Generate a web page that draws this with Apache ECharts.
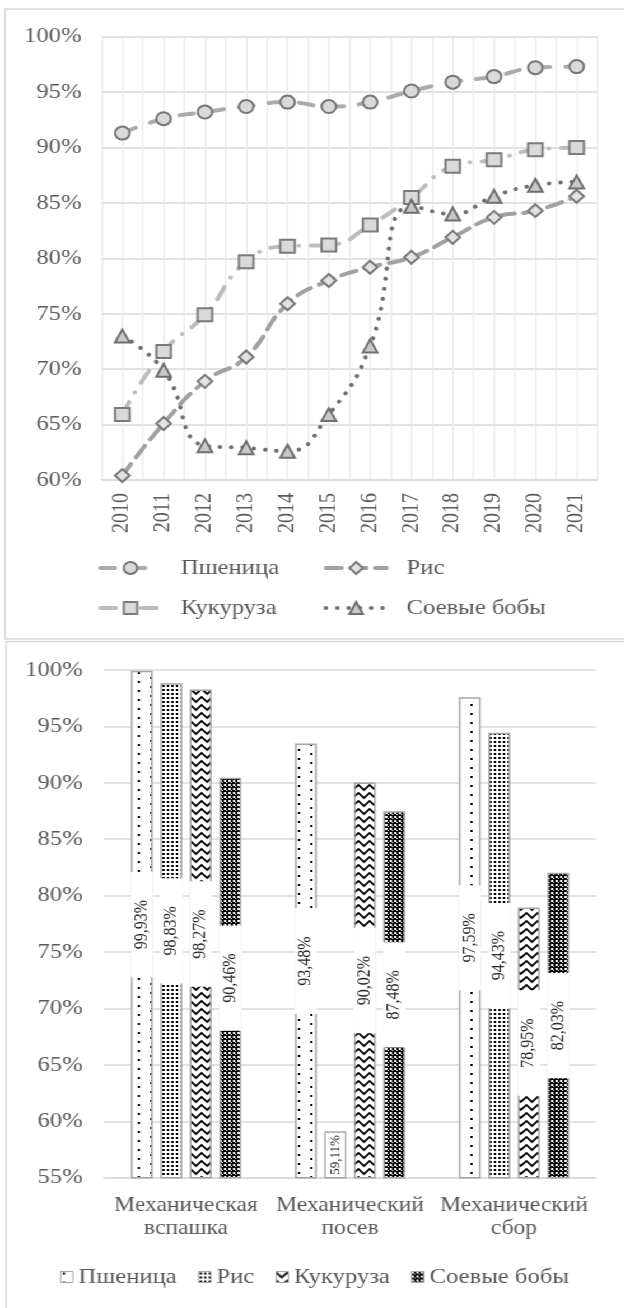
<!DOCTYPE html>
<html>
<head>
<meta charset="utf-8">
<script src="https://cdn.jsdelivr.net/npm/echarts@6/dist/echarts.min.js"></script>
<style>
  html, body { margin: 0; padding: 0; background: #fff; overflow: hidden; }
  /* the figure is drawn slightly narrow and widened as a whole */
  #wrap { position: absolute; left: 0; top: 0; width: 557px; height: 1308px;
          transform: scaleX(1.12); transform-origin: 0 0; }
  #lines { position: absolute; left: 0; top: 0; width: 557px; height: 640px; }
  #bars  { position: absolute; left: 0; top: 640px; width: 557px; height: 668px; }
</style>
</head>
<body>
<div id="wrap">
  <div id="lines"></div>
  <div id="bars"></div>
</div>
<script>
// ---- data: level of mechanisation by crop, %
const years = ['2010', '2011', '2012', '2013', '2014', '2015', '2016', '2017', '2018', '2019', '2020', '2021'];
const wheat = [91.3, 92.6, 93.2, 93.7, 94.1, 93.7, 94.1, 95.1, 95.9, 96.4, 97.2, 97.3];
const rice  = [60.4, 65.1, 68.9, 71.1, 75.9, 78.0, 79.2, 80.1, 81.9, 83.7, 84.3, 85.6];
const corn  = [65.9, 71.6, 74.9, 79.7, 81.1, 81.2, 83.0, 85.5, 88.3, 88.9, 89.8, 90.0];
const soy   = [73.0, 69.9, 63.1, 62.9, 62.6, 65.9, 72.1, 84.7, 84.0, 85.6, 86.6, 86.9];

const crops = ['Пшеница', 'Рис', 'Кукуруза', 'Соевые бобы'];
const operations = ['Механическая\nвспашка', 'Механический\nпосев', 'Механический\nсбор'];
const wheatOps = [99.93, 93.48, 97.59];
const riceOps  = [98.83, 59.11, 94.43];
const cornOps  = [98.27, 90.02, 78.95];
const soyOps   = [90.46, 87.48, 82.03];

const lineAxis = { min: 60, max: 100, step: 5 };
const barAxis  = { min: 55, max: 100, step: 5 };

// ---- styling
const FONT = "'Liberation Serif', 'Times New Roman', serif";
const TEXT = '#595959';
const GRID = '#d9d9d9';

// ---- line chart (by year)
const lineChart = echarts.init(document.getElementById('lines'));

function lineSeries(name, data, symbol, lineColor, dash, fill, edge) {
  return {
    name, type: 'line', data, symbol, symbolSize: 13, smooth: 0.5,
    xAxisIndex: 0, yAxisIndex: 0,
    lineStyle: { color: lineColor, width: 4, type: dash, cap: 'round' },
    itemStyle: { color: fill, borderColor: edge, borderWidth: 2 },
    emphasis: { disabled: true }
  };
}

function lineLegend(name, left, top) {
  return {
    data: [name], left, top, padding: 0, itemWidth: 54, itemHeight: 15,
    selectedMode: false,
    lineStyle: { width: 4 },
    textStyle: { fontFamily: FONT, fontSize: 22, color: TEXT, padding: [0, 0, 0, 13] }
  };
}

lineChart.setOption({
  animation: false,
  backgroundColor: '#fff',
  graphic: [{
    type: 'rect', silent: true,
    shape: { x: 4.5, y: 9, width: 620, height: 630 },
    style: { fill: 'none', stroke: GRID, lineWidth: 1.5 }
  }],
  grid: { left: 90.8, top: 36.7, width: 442.5, height: 443.3 },
  xAxis: [{
    type: 'category', data: years, boundaryGap: true,
    axisLine: { lineStyle: { color: GRID, width: 1.5 } },
    axisTick: { show: false },
    axisLabel: { interval: 0, rotate: 90, margin: 13, fontFamily: FONT, fontSize: 20, color: TEXT },
    splitLine: { show: false }
  }, {
    // half-year vertical rules
    type: 'value', min: 0, max: years.length * 2, interval: 1, position: 'top',
    axisLine: { show: false }, axisTick: { show: false }, axisLabel: { show: false },
    splitLine: { show: true, lineStyle: { color: '#e8e8e8', width: 1.2 } }
  }],
  yAxis: [{
    type: 'value', min: lineAxis.min, max: lineAxis.max, interval: lineAxis.step,
    axisLine: { show: false }, axisTick: { show: false },
    axisLabel: { formatter: '{value}%', margin: 18, fontFamily: FONT, fontSize: 22, color: TEXT },
    splitLine: { lineStyle: { color: GRID, width: 1.5 } }
  }],
  legend: [
    lineLegend(crops[0], 87.5, 557),
    lineLegend(crops[1], 289, 557),
    lineLegend(crops[2], 87.5, 597),
    lineLegend(crops[3], 289, 597)
  ],
  series: [
    lineSeries(crops[0], wheat, 'circle',   '#aeaaaa', [13, 14],          '#d9d9d9', '#767676'),
    lineSeries(crops[1], rice,  'diamond',  '#a3a0a0', [14, 8],           '#e2e2e2', '#7a7a7a'),
    lineSeries(crops[2], corn,  'rect',     '#bdbdbd', [14, 11, 0.1, 11], '#d9d9d9', '#7a7a7a'),
    lineSeries(crops[3], soy,   'triangle', '#6e6e6e', [0.1, 10],         '#c8c8c8', '#6e6e6e')
  ]
});

// ---- bar chart (by operation)
const barChart = echarts.init(document.getElementById('bars'));

function tile(w, h, bg, paint) {
  const c = document.createElement('canvas');
  c.width = w; c.height = h;
  const g = c.getContext('2d');
  g.fillStyle = bg; g.fillRect(0, 0, w, h);
  g.fillStyle = bg === '#fff' ? '#000' : '#fff';
  g.strokeStyle = '#000';
  paint(g);
  return { image: c, repeat: 'repeat' };
}

const fills = [
  // sparse staggered dots
  tile(22, 18, '#fff', g => { g.fillRect(2, 1, 2, 2); g.fillRect(13, 5, 2, 2); g.fillRect(2, 10, 2, 2); g.fillRect(13, 14, 2, 2); }),
  // dense dot grid
  tile(4, 4, '#fff', g => { g.fillRect(1, 1, 2, 2); }),
  // zigzag
  tile(10, 8, '#fff', g => { g.lineWidth = 1.8; g.beginPath(); g.moveTo(-1, 0); g.lineTo(5, 6); g.lineTo(11, 0); g.stroke(); }),
  // dark checkerboard with light specks
  tile(4, 4, '#000', g => { g.fillRect(0, 0, 2, 2); g.fillRect(2, 2, 1, 1); })
];

const fmtPct = v => v.toFixed(2).replace('.', ',') + '%';

function barSeries(i, values) {
  return {
    name: crops[i], type: 'bar', barWidth: 19.5, barGap: '35%',
    data: values.map(v => (v - barAxis.min < 8)
      ? { value: v, label: { fontSize: 13, padding: [2, 2] } }
      : v),
    itemStyle: { color: fills[i], borderColor: '#a5a5a5', borderWidth: 1.5 },
    label: {
      show: true, position: 'inside', rotate: 90,
      formatter: p => fmtPct(p.value),
      fontFamily: FONT, fontSize: 16, color: '#262626',
      backgroundColor: '#fff', padding: [2, 28]
    },
    emphasis: { disabled: true }
  };
}

barChart.setOption({
  animation: false,
  backgroundColor: '#fff',
  graphic: [{
    type: 'rect', silent: true,
    shape: { x: 5.4, y: 1.5, width: 620, height: 700 },
    style: { fill: 'none', stroke: GRID, lineWidth: 1.5 }
  }],
  grid: { left: 92.9, top: 30, width: 439.3, height: 507.7 },
  xAxis: {
    type: 'category', data: operations,
    axisLine: { lineStyle: { color: GRID, width: 1.5 } },
    axisTick: { show: false },
    axisLabel: { interval: 0, margin: 16, fontFamily: FONT, fontSize: 21, lineHeight: 23, color: TEXT },
    splitLine: { show: false }
  },
  yAxis: {
    type: 'value', min: barAxis.min, max: barAxis.max, interval: barAxis.step,
    axisLine: { show: false }, axisTick: { show: false },
    axisLabel: { formatter: '{value}%', margin: 19, fontFamily: FONT, fontSize: 22, color: TEXT },
    splitLine: { lineStyle: { color: GRID, width: 1.5 } }
  },
  legend: {
    data: crops, left: 53.6, top: 626, padding: 0, icon: 'rect',
    itemWidth: 11, itemHeight: 11, itemGap: 19, selectedMode: false,
    itemStyle: { borderColor: '#a5a5a5', borderWidth: 1 },
    textStyle: { fontFamily: FONT, fontSize: 22, color: TEXT }
  },
  series: [
    barSeries(0, wheatOps),
    barSeries(1, riceOps),
    barSeries(2, cornOps),
    barSeries(3, soyOps)
  ]
});
</script>
</body>
</html>
